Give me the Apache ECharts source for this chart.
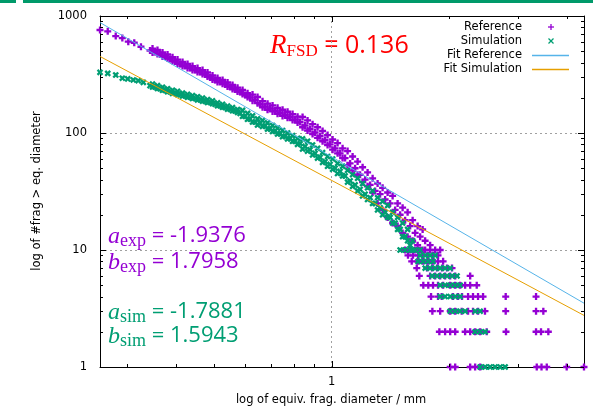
<!DOCTYPE html>
<html><head><meta charset="utf-8">
<script src="https://cdn.jsdelivr.net/npm/echarts@6/dist/echarts.min.js"></script>
<style>html,body{margin:0;padding:0;background:#fff}#c{width:593px;height:410px}</style>
</head><body><div id="c"></div>
<script>
// ---------- data ----------
const refBandDiam = [0.2555,0.2674,0.2803,0.2914,0.3018,0.3126,0.3252,
 0.3430,0.3532,0.3638,0.3747,0.3859,0.3974,0.4093,0.4215,0.4341,0.4471,
 0.4605,0.4742,0.4884,0.5030,0.5181,0.5336,0.5495,0.5659,0.5829,0.6003,
 0.6182,0.6367,0.6557,0.6753,0.6955,0.7163,0.7377,0.7598,0.7825,0.8059,
 0.8300,0.8548,0.8804,0.9067,0.9338,0.9617,0.9905,1.0201,1.0506,1.0820,
 1.1144,1.1477,1.1820,1.2173,1.2537,1.2912,1.3298,1.3696,1.4105,1.4527,
 1.4961,1.5408,1.5869,1.6343,1.6832,1.7335,1.7853];
const refBandCount = [759,740,674,648,603,591,546,
 507,492,469,451,428,408,389,374,359,345,
 332,316,298,284,273,260,247,235,224,211,
 201,191,176,168,162,155,149,143,137,130,
 124,116,108,101,94,87,80,74,67,61,
 55,50,44,40,36,32,30,27,25,22,
 20,18,16,14,13,12,11];
// upper / lower edge of the bands, read between the centre readings
const edgeDiam = [0.3481,0.3584,0.3692,0.3803,0.3916,0.4033,0.4154,0.4278,0.4405,0.4537,
 0.4673,0.4812,0.4956,0.5104,0.5258,0.5415,0.5576,0.5743,0.5915,0.6092,
 0.6273,0.6461,0.6654,0.6853,0.7058,0.7269,0.7486,0.7710,0.7941,0.8178,
 0.8423,0.8674,0.8934,0.9201,0.9476,0.9759,1.0052,1.0352,1.0661,1.0980,
 1.1309,1.1647,1.1995,1.2353,1.2723,1.3103,1.3495,1.3899,1.4314,1.4742,
 1.5182,1.5636,1.6104,1.6585,1.7081];
const refEdgeUpper = [527,512,488,469,445,424,405,389,373,359,345,329,310,295,284,270,257,244,233,219,
 213,203,187,178,172,164,158,152,145,138, 137,128,119,112,104,96,88,82,74,
 70,63,57,51,46,41,37,34,31,29,25,23,21,18,16,15];
const refEdgeLower = [488,473,451,434,412,392,374,360,345,332,319,304,287,273,263,250,238,226,215,203,
 189,180,166,158,153,146,140,135,129,123, 112,105,98,91,85,79,72,67,61,
 53,48,44,38,35,31,25,22,19,17,16,14,13,12,11,10];
const refTailLevels = [10,9,8,7,6,5,4,3,2,1];
const refTailDiams = [
 [1.541,1.587,1.634,1.683,1.734,1.785,1.839,1.894],
 [1.567,1.614,1.662,1.712,1.763,1.816,1.870],
 [1.602,1.662,1.712,1.763,1.816,1.870,1.927],
 [1.650,1.753,1.805,1.859,1.915,1.972,2.031],
 [1.675,1.785,1.839,1.894,1.950,2.009,2.069,2.260],
 [1.715,1.766,1.816,1.870,1.927,2.009,2.069,2.130,2.194,2.260,2.349],
 [1.795,1.870,1.911,2.043,2.104,2.154,2.232,2.298,2.367,2.438,2.786,3.331],
 [1.809,1.894,2.009,2.069,2.150,2.232,2.298,2.367,2.466,2.786,3.331,3.477],
 [1.885,1.950,2.009,2.069,2.194,2.260,2.327,2.397,2.491,2.791,3.331,3.430,3.581],
 [2.009,2.069,2.260,2.327,2.397,3.345,3.440,3.548,3.990,4.418]
];

const simBandDiam = [0.2555,0.2674,0.2803,0.2914,0.3008,0.3108,0.3200,0.3297,
 0.3430,0.3532,0.3638,0.3747,0.3859,0.3974,0.4093,0.4215,0.4341,0.4471,
 0.4605,0.4742,0.4884,0.5030,0.5181,0.5336,0.5495,0.5659,0.5829,0.6003,
 0.6182,0.6367,0.6557,0.6753,0.6955,0.7163,0.7377,0.7598,0.7825,0.8059,
 0.8300,0.8548,0.8804,0.9067,0.9338,0.9617,0.9905,1.0201,1.0506,1.0820,
 1.1144,1.1477,1.1820,1.2173,1.2537,1.2912,1.3298,1.3696,1.4105,1.4527,
 1.4961,1.5408,1.5869];
const simBandCount = [330,323,313,294,290,284,280,271,
 254,247,239,232,225,220,213,208,203,198,
 193,187,183,176,171,165,160,154,147,139,
 132,124,121,115,109,104,99,94,90,85,
 81,77,72,67,62,57,54,50,47,43,
 39,36,33,30,28,25,23,21,19,17,
 15,13,11];
const simEdgeUpper = [262,254,246,239,232,227,219,214,209,204,199,193,188,181,176,170,165,159,
 156,147,140,132,128,122,116,110,105,100,95,90, 89,85,79,74,68,63,60,55,52,
 48,44,41,37,34,32,28,26,24,21,19,17,15,12];
const simEdgeLower = [247,240,232,225,218,214,207,202,197,192,187,182,178,171,166,160,155,150,
 139,131,124,117,114,108,103,98,93,89,85,80, 73,70,65,61,56,52,49,45,43,
 38,35,32,29,27,25,22,20,19,17,15,13,12,10];
const simTailLevels = [10,9,8,7,6,5,4,3,2,1];
const simTailDiams = [
 [1.496,1.541,1.587,1.634,1.683],
 [1.683,1.734,1.785,1.839],
 [1.662,1.712,1.763,1.816],
 [1.734,1.785,1.839,1.894,1.950,2.009],
 [1.805,1.859,1.915,1.972,2.031,2.092],
 [1.894,1.950,2.009,2.069,2.130],
 [1.894,1.950,2.009,2.069,2.130],
 [2.009,2.069,2.130,2.194,2.327,2.397],
 [2.327,2.397,2.469],
 [2.397,2.469,2.542,2.618,2.697,2.777]
];

const fitDiam = [0.2555, 4.418];
const fitRefCount = [879, 3.51];
const fitSimCount = [451, 2.76];

const xRange = [0.2555, 4.418];
const yRange = [1, 1000];
const xTicksMajor = [1];
const xTicksMinor = [0.3,0.4,0.5,0.6,0.7,0.8,0.9,2,3,4];
const yTicksMajor = [1,10,100,1000];
const yTicksMinor = [2,3,4,5,6,7,8,9,20,30,40,50,60,70,80,90,200,300,400,500,600,700,800,900];

const seriesNames = ['Reference','Simulation','Fit Reference','Fit Simulation'];

// ---------- build ----------
const C_REF = '#9400d3', C_SIM = '#009e73', C_FREF = '#56b4e9', C_FSIM = '#e69f00';
function pairs(ds, ns){ return ns.map((n,i)=>[ds[i], n]); }
function tailPairs(levels, rows){ const out=[]; levels.forEach((n,i)=>rows[i].forEach(d=>out.push([d,n]))); return out; }
const refData = pairs(edgeDiam, refEdgeUpper).concat(pairs(edgeDiam, refEdgeLower), pairs(refBandDiam, refBandCount), tailPairs(refTailLevels, refTailDiams));
const simData = pairs(edgeDiam, simEdgeUpper).concat(pairs(edgeDiam, simEdgeLower), pairs(simBandDiam, simBandCount), tailPairs(simTailLevels, simTailDiams));

const PLUS = 'path://M3,0H6V3H9V6H6V9H3V6H0V3H3Z';
const SANS = '"DejaVu Sans", sans-serif';
const FS = 11.5;

const xTickData = xTicksMajor.map(v=>[v, yRange[0], 1]).concat(xTicksMinor.map(v=>[v, yRange[0], 0]));
const yTickData = yTicksMajor.map(v=>[xRange[0], v, 1]).concat(yTicksMinor.map(v=>[xRange[0], v, 0]));
const MAJ = 6, MIN = 3;

function tickLine(x1,y1,x2,y2){ return {type:'line', shape:{x1,y1,x2,y2}, style:{stroke:'#000', lineWidth:1}}; }

const mctx = document.createElement('canvas').getContext('2d');
function textRow(x, y, segs, color){
  const out=[]; let cx=x;
  segs.forEach(s=>{
    mctx.font = s.font;
    const w = mctx.measureText(s.t).width;
    out.push({type:'text', x:cx, y:y+(s.dy||0), silent:true,
      style:{text:s.t, font:s.font, fill:color, textAlign:'left', textVerticalAlign:'middle', align:'left', verticalAlign:'middle'}});
    cx += w;
  });
  return out;
}
const ITAL = '"Liberation Serif", serif';
const NUMF = '"Open Sans", sans-serif';
const graphics = [
  {type:'rect', shape:{x:0,y:0,width:16,height:3}, style:{fill:'#009a6a'}, silent:true},
  {type:'rect', shape:{x:23,y:0,width:570,height:3}, style:{fill:'#009a6a'}, silent:true},
  {type:'text', x:331, y:400, style:{text:'log of equiv. frag. diameter / mm', font:FS+'px '+SANS, fill:'#000', textAlign:'center', textVerticalAlign:'middle', align:'center', verticalAlign:'middle'}},
  {type:'text', x:37, y:191, rotation:Math.PI/2, style:{text:'log of #frag > eq. diameter', font:FS+'px '+SANS, fill:'#000', textAlign:'center', textVerticalAlign:'middle', align:'center', verticalAlign:'middle'}},
];
const legY = [27, 41, 55, 69];
seriesNames.forEach((n,i)=>graphics.push({type:'text', x:522, y:legY[i], style:{text:n, font:FS+'px '+SANS, fill:'#000', textAlign:'right', textVerticalAlign:'middle', align:'right', verticalAlign:'middle'}}));
graphics.push(
  {type:'line', shape:{x1:548,y1:legY[0],x2:554,y2:legY[0]}, style:{stroke:C_REF,lineWidth:1.3}},
  {type:'line', shape:{x1:551,y1:legY[0]-3,x2:551,y2:legY[0]+3}, style:{stroke:C_REF,lineWidth:1.3}},
  {type:'line', shape:{x1:548.5,y1:legY[1]-2.5,x2:553.5,y2:legY[1]+2.5}, style:{stroke:C_SIM,lineWidth:1.2}},
  {type:'line', shape:{x1:548.5,y1:legY[1]+2.5,x2:553.5,y2:legY[1]-2.5}, style:{stroke:C_SIM,lineWidth:1.2}},
  {type:'line', shape:{x1:532,y1:legY[2]+0.5,x2:569,y2:legY[2]+0.5}, style:{stroke:C_FREF,lineWidth:1.5}},
  {type:'line', shape:{x1:532,y1:legY[3]+0.5,x2:569,y2:legY[3]+0.5}, style:{stroke:C_FSIM,lineWidth:1.5}}
);
graphics.push(...textRow(270, 46, [
  {t:'R', font:'italic 27px '+ITAL},
  {t:'FSD', font:'17px '+ITAL, dy:6},
  {t:' = 0.136', font:'25px '+NUMF}
], '#ff0000'));
const annRows = [
  {y:236, l:'a', s:'exp', v:' = -1.9376', c:C_REF},
  {y:262, l:'b', s:'exp', v:' = 1.7958', c:C_REF},
  {y:312, l:'a', s:'sim', v:' = -1.7881', c:C_SIM},
  {y:336, l:'b', s:'sim', v:' = 1.5943', c:C_SIM}
];
annRows.forEach(r=>graphics.push(...textRow(108, r.y, [
  {t:r.l, font:'italic 24px '+ITAL, dy:1},
  {t:r.s, font:'18px '+ITAL, dy:5},
  {t:r.v, font:'22px '+NUMF}
], r.c)));

const chart = echarts.init(document.getElementById('c'), null, {renderer:'canvas'});
const axCommon = {type:'log', logBase:10};
chart.setOption({
  animation:false,
  backgroundColor:'#fff',
  grid:{left:100, right:9, top:16, bottom:43, containLabel:false},
  xAxis:[
    Object.assign({}, axCommon, {min:xRange[0], max:xRange[1], position:'bottom',
      axisLine:{show:true, lineStyle:{color:'#000', width:1}},
      axisTick:{show:false}, minorTick:{show:false},
      axisLabel:{margin:9, color:'#000', fontFamily:SANS, fontSize:FS, showMinLabel:false, showMaxLabel:false,
        formatter:v=>Math.abs(v-1)<1e-6?'1':''},
      splitLine:{show:true, showMinLine:false, showMaxLine:false, lineStyle:{color:'#a0a0a0', width:1, type:[2,3]}}}),
    Object.assign({}, axCommon, {min:xRange[0], max:xRange[1], position:'top',
      axisLine:{show:true, lineStyle:{color:'#000', width:1}}, axisTick:{show:false}, axisLabel:{show:false}, splitLine:{show:false}})
  ],
  yAxis:[
    Object.assign({}, axCommon, {min:yRange[0], max:yRange[1], position:'left',
      axisLine:{show:true, lineStyle:{color:'#000', width:1}},
      axisTick:{show:false}, minorTick:{show:false},
      axisLabel:{margin:13, color:'#000', fontFamily:SANS, fontSize:FS, formatter:v=>String(Math.round(v))},
      splitLine:{show:true, showMinLine:false, showMaxLine:false, lineStyle:{color:'#a0a0a0', width:1, type:[2,3]}}}),
    Object.assign({}, axCommon, {min:yRange[0], max:yRange[1], position:'right',
      axisLine:{show:true, lineStyle:{color:'#000', width:1}}, axisTick:{show:false}, axisLabel:{show:false}, splitLine:{show:false}})
  ],
  graphic: graphics,
  series:[
    {name:seriesNames[0], type:'scatter', data:refData, symbol:PLUS, symbolSize:7, clip:false,
      itemStyle:{color:C_REF, opacity:1}, z:2, silent:true},
    {name:seriesNames[1], type:'scatter', data:simData, symbol:PLUS, symbolSize:7, symbolRotate:45, clip:false,
      itemStyle:{color:C_SIM, opacity:1}, z:3, silent:true},
    {name:seriesNames[2], type:'line', data:pairs(fitDiam, fitRefCount), showSymbol:false, symbol:'none',
      lineStyle:{color:C_FREF, width:1}, z:4, silent:true},
    {name:seriesNames[3], type:'line', data:pairs(fitDiam, fitSimCount), showSymbol:false, symbol:'none',
      lineStyle:{color:C_FSIM, width:1}, z:5, silent:true},
    {type:'custom', data:xTickData, encode:{x:0,y:1}, clip:false, z:10, silent:true,
      renderItem:(p, api)=>{
        const x=api.value(0), len=api.value(2)?MAJ:MIN;
        const b=api.coord([x, yRange[0]]), t=api.coord([x, yRange[1]]);
        const px=Math.round(b[0])+0.5;
        return {type:'group', children:[tickLine(px,b[1],px,b[1]-len), tickLine(px,t[1],px,t[1]+len)]};
      }},
    {type:'custom', data:yTickData, encode:{x:0,y:1}, clip:false, z:10, silent:true,
      renderItem:(p, api)=>{
        const y=api.value(1), len=api.value(2)?MAJ:MIN;
        const l=api.coord([xRange[0], y]), r=api.coord([xRange[1], y]);
        const py=Math.round(l[1])+0.5;
        return {type:'group', children:[tickLine(l[0],py,l[0]+len,py), tickLine(r[0],py,r[0]-len,py)]};
      }}
  ]
});
</script></body></html>
